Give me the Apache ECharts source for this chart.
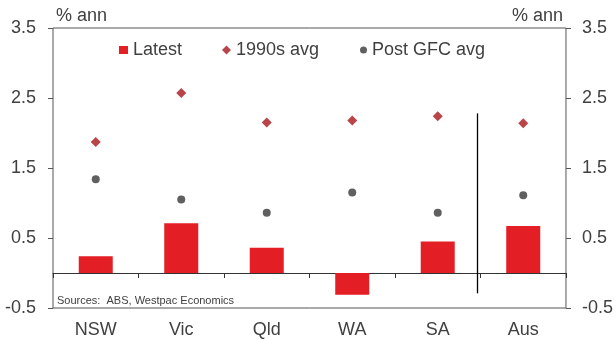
<!DOCTYPE html>
<html><head><meta charset="utf-8">
<script src="https://cdn.jsdelivr.net/npm/echarts@6/dist/echarts.min.js"></script>
<style>html,body{margin:0;padding:0;background:#fff}#c{width:616px;height:340px}</style>
</head><body><div id="c"></div>
<script>
const categories = ['NSW', 'Vic', 'Qld', 'WA', 'SA', 'Aus'];
const latest = [0.24, 0.71, 0.36, -0.31, 0.45, 0.67];
const avg1990s = [1.87, 2.57, 2.15, 2.18, 2.24, 2.14];
const postGFC = [1.34, 1.05, 0.86, 1.15, 0.86, 1.11];
const yTicks = [-0.5, 0.5, 1.5, 2.5, 3.5];
const yMin = -0.5, yMax = 3.5;
const separator = { after: 'SA', from: -0.29, to: 2.28 };
const unitLabel = '% ann';
const sourceText = 'Sources:  ABS, Westpac Economics';
const seriesNames = ['Latest', '1990s avg', 'Post GFC avg'];

const FONT = 'Arial, "Liberation Sans", sans-serif';
const TXT = '#404040';
const BOX = '#555555';

const chart = echarts.init(document.getElementById('c'), null, { renderer: 'canvas' });

function yAxisDef(pos) {
  return {
    type: 'value', position: pos, min: yMin, max: yMax,
    axisLine: { show: false },
    axisTick: { show: true, length: 5, customValues: yTicks, lineStyle: { color: BOX, width: 1 } },
    axisLabel: { customValues: yTicks, margin: pos === 'left' ? 17 : 16, color: TXT, fontSize: 18, fontFamily: FONT,
      formatter: v => v.toFixed(1) },
    splitLine: { show: false }
  };
}

function legendDef(name, icon, left, w, h) {
  return {
    data: [{ name: name, icon: icon }], left: left, top: 41, padding: 0,
    itemWidth: w, itemHeight: h, selectedMode: false,
    textStyle: { color: TXT, fontSize: 18, fontFamily: FONT }
  };
}

const option = {
  animation: false,
  backgroundColor: '#fff',
  grid: { left: 53, right: 49, top: 28, bottom: 32, show: true, borderColor: BOX, borderWidth: 1, backgroundColor: 'transparent' },
  title: [
    { text: unitLabel, left: 56, top: 7, padding: 0, textStyle: { color: TXT, fontSize: 18, fontWeight: 'normal', fontFamily: FONT } },
    { text: unitLabel, right: 53, top: 7, padding: 0, textStyle: { color: TXT, fontSize: 18, fontWeight: 'normal', fontFamily: FONT } },
    { text: sourceText, left: 57, top: 295, padding: 0, textStyle: { color: TXT, fontSize: 11, fontWeight: 'normal', fontFamily: FONT } }
  ],
  legend: [
    legendDef(seriesNames[0], 'rect', 119, 9, 8),
    legendDef(seriesNames[1], 'diamond', 222, 9, 9),
    legendDef(seriesNames[2], 'circle', 360, 7, 7)
  ],
  xAxis: [
    { type: 'category', data: categories, position: 'bottom',
      axisLine: { show: false, onZero: false }, axisTick: { show: false },
      axisLabel: { color: TXT, fontSize: 18, fontFamily: FONT, margin: 13 } },
    { type: 'category', data: categories, position: 'top',
      axisLine: { show: true, onZero: true, lineStyle: { color: '#333', width: 1 } },
      axisTick: { show: true, inside: true, length: 5, lineStyle: { color: '#333' } },
      axisLabel: { show: false } }
  ],
  yAxis: [yAxisDef('left'), yAxisDef('right')],
  series: [
    { name: seriesNames[0], type: 'bar', data: latest, barWidth: 34, itemStyle: { color: '#e31e24' }, xAxisIndex: 0, yAxisIndex: 0 },
    { name: seriesNames[1], type: 'scatter', data: avg1990s, symbol: 'diamond', symbolSize: 10, itemStyle: { color: '#a8161c' }, xAxisIndex: 0, yAxisIndex: 0, z: 4 },
    { name: seriesNames[2], type: 'scatter', data: postGFC, symbol: 'circle', symbolSize: 8, itemStyle: { color: '#383838' }, xAxisIndex: 0, yAxisIndex: 0, z: 4 },
    { type: 'custom', xAxisIndex: 0, yAxisIndex: 0, silent: true, z: 5,
      encode: { x: 0, y: [1, 2] },
      data: [[categories.indexOf(separator.after), separator.from, separator.to]],
      renderItem: (params, api) => {
        const c = api.value(0);
        const p1 = api.coord([c, api.value(1)]);
        const p2 = api.coord([c, api.value(2)]);
        const bw = api.size([1, 0])[0];
        const x = Math.round(p1[0] + bw * 0.465) + 0.5;
        return { type: 'line', shape: { x1: x, y1: p1[1], x2: x, y2: p2[1] }, style: { stroke: '#000', lineWidth: 1.3 } };
      } }
  ]
};
chart.setOption(option);
</script></body></html>
